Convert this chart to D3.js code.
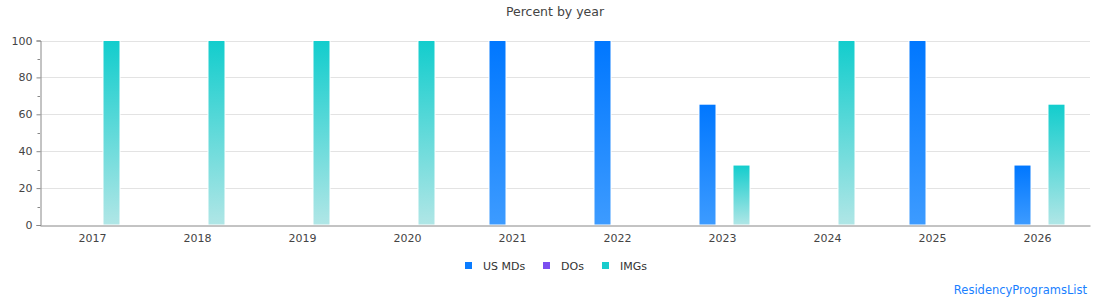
<!DOCTYPE html>
<html><head><meta charset="utf-8">
<script src="https://cdn.jsdelivr.net/npm/d3@7"></script>
<style>body{margin:0;background:#fff;font-family:"DejaVu Sans",sans-serif;}</style>
</head><body><svg id="c" width="1110" height="300"></svg>
<script>
const years = ["2017","2018","2019","2020","2021","2022","2023","2024","2025","2026"];
const seriesNames = ["US MDs","DOs","IMGs"];
const usMDs = [0,0,0,0,100,100,65.5,0,100,32.5];
const dos   = [0,0,0,0,0,0,0,0,0,0];
const imgs  = [100,100,100,100,0,0,32.5,100,0,65.5];
const yTicks = [0,20,40,60,80,100];
const yMinor = [10,30,50,70,90];

const seriesVals = [usMDs, dos, imgs];
const colors = [["#0077ff","#3d9bff"],["#7a4cf0","#a88af5"],["#12cdcd","#b0e6e6"]];
const legendColors = ["#0a7cff","#7b4ef0","#18cccc"];

const svg = d3.select("#c");
const m = {l:40, r:1090, t:40.5, b:225};
const x = d3.scaleBand().domain(years).range([m.l, m.r]);
const x1 = d3.scaleBand().domain(seriesNames).range([0, 51]);
const y = d3.scaleLinear().domain([0,100]).range([m.b, m.t]);

const defs = svg.append("defs");
colors.forEach((c,i)=>{
  const g = defs.append("linearGradient").attr("id","g"+i).attr("x1",0).attr("x2",0).attr("y1",0).attr("y2",1);
  g.append("stop").attr("offset","0%").attr("stop-color",c[0]);
  g.append("stop").attr("offset","100%").attr("stop-color",c[1]);
});

// grid
svg.append("g").selectAll("line").data(yTicks.filter(d=>d>0)).join("line")
  .attr("x1",m.l).attr("x2",m.r).attr("y1",d=>Math.round(y(d))+0.5).attr("y2",d=>Math.round(y(d))+0.5)
  .attr("stroke","#e3e3e3").attr("stroke-width",1);

// bars
const groups = svg.append("g").selectAll("g").data(years).join("g")
  .attr("transform",d=>`translate(${x(d)+x.bandwidth()/2-23},0)`);
groups.selectAll("rect").data((yr,i)=>seriesNames.map((s,j)=>({s,j,v:seriesVals[j][i]})).filter(d=>d.v>0)).join("rect")
  .attr("x",d=>x1(d.s)-0.5).attr("width",x1.bandwidth())
  .attr("y",d=>y(d.v)).attr("height",d=>y(0)-y(d.v))
  .attr("fill",d=>`url(#g${d.j})`).attr("stroke","#fff").attr("stroke-width",1);

// y axis
const ya = svg.append("g").attr("transform",`translate(${m.l+0.5},0)`)
  .call(d3.axisLeft(y).tickValues(yTicks).tickSize(4).tickPadding(4));
ya.select(".domain").attr("stroke","#888");
ya.selectAll(".tick line").attr("stroke","#888");
ya.selectAll("text").attr("fill","#444").style("font-size","11px").style("font-family","DejaVu Sans");
svg.append("g").selectAll("line").data(yMinor).join("line")
  .attr("x1",m.l-2.5).attr("x2",m.l).attr("y1",d=>Math.round(y(d))+0.5).attr("y2",d=>Math.round(y(d))+0.5)
  .attr("stroke","#888");

// x axis
const xa = svg.append("g").attr("transform",`translate(0,${m.b+0.5})`)
  .call(d3.axisBottom(x).tickSize(0).tickPadding(9));
xa.select(".domain").attr("stroke","#888");
xa.selectAll("text").attr("fill","#444").style("font-size","11px").style("font-family","DejaVu Sans");

// title
svg.append("text").attr("x",555).attr("y",16).attr("text-anchor","middle")
  .attr("fill","#444").style("font-size","12.5px").text("Percent by year");

// legend
const legX = [465,543,602];
const leg = svg.append("g").selectAll("g").data(seriesNames).join("g")
  .attr("transform",(d,i)=>`translate(${legX[i]},262)`);
leg.append("rect").attr("width",7).attr("height",7).attr("fill",(d,i)=>legendColors[i]);
leg.append("text").attr("x",18).attr("y",7.5).attr("fill","#333").style("font-size","11px").text(d=>d);

svg.append("text").attr("x",1087).attr("y",294).attr("text-anchor","end")
  .attr("fill","#1a7fff").style("font-size","11.5px").text("ResidencyProgramsList");
</script></body></html>
